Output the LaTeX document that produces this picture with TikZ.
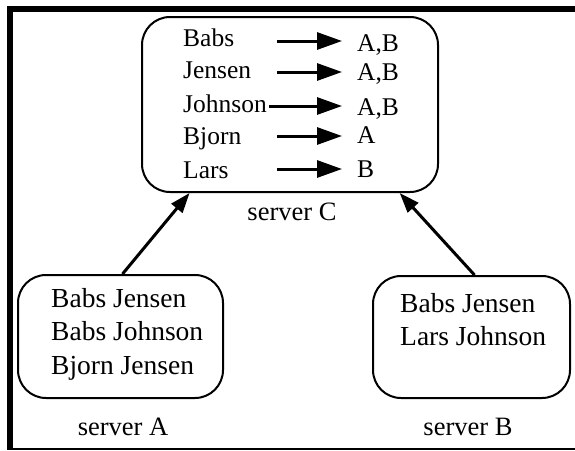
\documentclass[tikz,border=0pt]{standalone}
\usepackage{fontspec}
\setmainfont{Liberation Serif}
\usetikzlibrary{arrows.meta,calc}
\begin{document}
\begin{tikzpicture}[x=1pt,y=-1pt,
  box/.style={draw,line width=2pt,rounded corners=28pt,inner sep=0pt},
  txt/.style={anchor=base west,inner sep=0pt,font=\fontsize{27.5}{30}\selectfont},
  ctxt/.style={anchor=base west,inner sep=0pt,font=\fontsize{25.5}{30}\selectfont},
  lbl/.style={anchor=base,inner sep=0pt,font=\fontsize{26.5}{30}\selectfont},
  maparrow/.style={line width=3pt,-{Triangle[length=25pt,width=17pt]}},
  feedarrow/.style={line width=3pt,-{Triangle[length=20pt,width=14pt]}}]
\useasboundingbox (0,0) rectangle (575,450);
% frame
\draw[line width=6pt,line join=miter] (575,9) -- (10,9) -- (10,450);
\draw[line width=2.3pt] (7,449) -- (575,449);
% boxes
\node[box,minimum width=296pt,minimum height=175pt] (sc) at (290,104.5) {};
\node[box,minimum width=205pt,minimum height=123pt] (sa) at (120.5,336.5) {};
\node[box,minimum width=197pt,minimum height=122pt] (sb) at (471.5,337) {};
% server C contents
\node[ctxt] (l1) at (183,46) {Babs};
\node[ctxt] (l2) at (183,78) {Jensen};
\node[ctxt] (l3) at (183,112) {Johnson};
\node[ctxt] (l4) at (183,144) {Bjorn};
\node[ctxt] (l5) at (183,178) {Lars};
\node[ctxt] (r1) at (357,51) {A,B};
\node[ctxt] (r2) at (357,80) {A,B};
\node[ctxt] (r3) at (357,115) {A,B};
\node[ctxt] (r4) at (357,143) {A};
\node[ctxt] (r5) at (357,177) {B};
\coordinate (s1) at (277,41);  \coordinate (e1) at (342,41);
\coordinate (s2) at (277,72);  \coordinate (e2) at (342,72);
\coordinate (s3) at (269,106); \coordinate (e3) at (342,106);
\coordinate (s4) at (277,136); \coordinate (e4) at (342,136);
\coordinate (s5) at (277,169); \coordinate (e5) at (342,169);
\draw[maparrow] (s1) -- (e1);
\draw[maparrow] (s2) -- (e2);
\draw[maparrow] (s3) -- (e3);
\draw[maparrow] (s4) -- (e4);
\draw[maparrow] (s5) -- (e5);
% server A contents
\node[txt] (a1) at (51,307) {Babs Jensen};
\node[txt] (a2) at (51,340) {Babs Johnson};
\node[txt] (a3) at (51,374) {Bjorn Jensen};
% server B contents
\node[txt] (b1) at (400,312) {Babs Jensen};
\node[txt] (b2) at (400,345) {Lars Johnson};
% labels
\node[lbl] (lc) at (292,220) {server C};
\node[lbl] (la) at (123,435) {server A};
\node[lbl] (lb) at (468,435) {server B};
% feed arrows
\draw[feedarrow] ($(sa.north)+(2,0)$) -- ($(sc.south west)!0.163!(sc.south east)$);
\draw[feedarrow] ($(sb.north)+(3,0)$) -- ($(sc.south west)!0.868!(sc.south east)$);
\end{tikzpicture}
\end{document}
